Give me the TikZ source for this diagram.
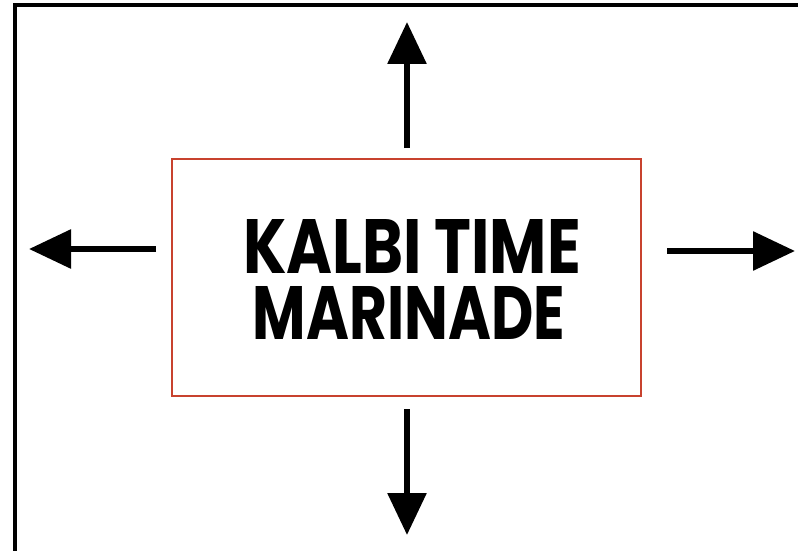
\documentclass[tikz,border=0pt]{standalone}
\usepackage{fontspec}
\newfontfamily\titlefont{Poppins}
\usetikzlibrary{arrows.meta}
\definecolor{boxred}{RGB}{200,66,46}
\tikzset{
  frameline/.style={draw=black, line width=3.5pt},
  redbox/.style={draw=boxred, line width=2pt, fill=none, inner sep=0pt},
  titletext/.style={inner sep=0pt, outer sep=0pt, font=\titlefont\bfseries},
  bigarrow/.style={line width=6pt, -{Triangle[length=42pt, width=38pt]}}
}
\begin{document}
\begin{tikzpicture}[x=1pt, y=-1pt]
  \useasboundingbox (0,0) rectangle (798,551);
  \clip (0,0) rectangle (798,551);
  % outer frame (right and bottom sides run past the picture's edge)
  \draw[frameline] (15,5) rectangle (805,558);
  % central box
  \node[redbox, minimum width=469pt, minimum height=237pt] (box) at (406.5,277.5) {};
  % title
  \node[titletext] (title) at (409,279.5)
    {\vbox{\offinterlineskip\halign{\hfil#\hfil\cr
      \hspace*{6pt}\resizebox{338pt}{54pt}{KALBI TIME}\cr
      \noalign{\kern12pt}
      \resizebox{312pt}{53pt}{MARINADE}\cr}}};
  % arrow anchors
  \coordinate (us) at (407,148);
  \coordinate (ue) at (407,22);
  \coordinate (ls) at (156,249);
  \coordinate (le) at (29,249);
  \coordinate (rs) at (667,251);
  \coordinate (re) at (795,251);
  \coordinate (ds) at (407,409);
  \coordinate (de) at (407,535);
  \draw[bigarrow] (us) -- (ue);
  \draw[bigarrow] (ls) -- (le);
  \draw[bigarrow] (rs) -- (re);
  \draw[bigarrow] (ds) -- (de);
\end{tikzpicture}
\end{document}
